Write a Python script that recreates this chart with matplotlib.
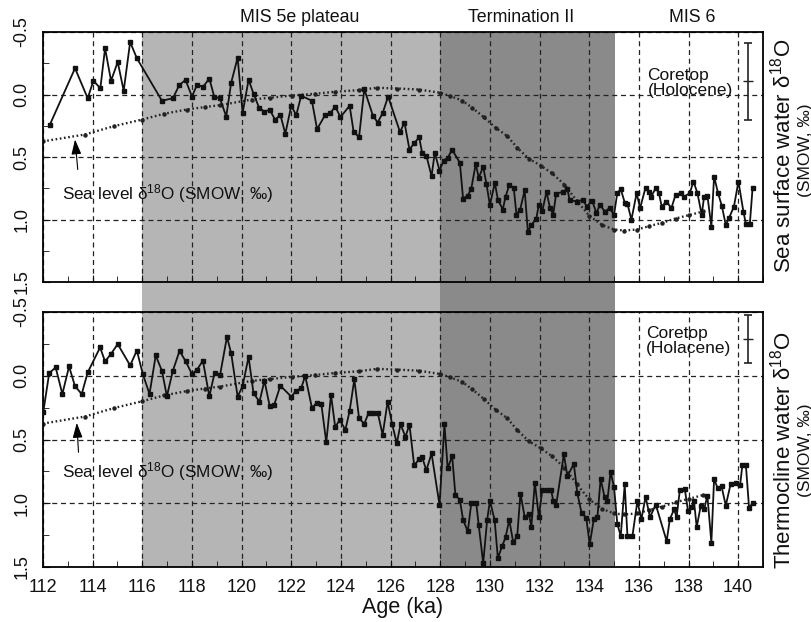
import matplotlib
matplotlib.use('Agg')
import matplotlib.pyplot as plt
from matplotlib.patches import Rectangle
from matplotlib.transforms import blended_transform_factory
from matplotlib.ticker import MultipleLocator, FormatStrFormatter

plt.rcParams['font.family'] = ['Liberation Sans', 'DejaVu Sans']
plt.rcParams['mathtext.default'] = 'regular'

# sea surface water d18O (top panel)
top_age = [112.28, 113.29, 113.80, 114.03, 114.31, 114.50, 114.74, 115.01, 115.25, 115.51,
           115.78, 116.79, 117.23, 117.49, 117.74, 118.00, 118.20, 118.45, 118.70, 118.90,
           119.12, 119.38, 119.58, 119.84, 120.04, 120.28, 120.48, 120.71, 120.92, 121.13,
           121.35, 121.56, 121.76, 122.00, 122.20, 122.40, 122.83, 123.04, 123.37, 123.57,
           123.77, 123.98, 124.35, 124.51, 124.73, 124.94, 125.29, 125.48, 125.68, 125.90,
           126.38, 126.56, 126.76, 126.95, 127.15, 127.27, 127.44, 127.65, 127.78, 127.97,
           128.14, 128.30, 128.48, 128.79, 128.92, 129.11, 129.25, 129.43, 129.55, 129.73,
           129.86, 130.00, 130.20, 130.32, 130.52, 130.63, 130.78, 130.96, 131.07, 131.22,
           131.40, 131.53, 131.67, 131.87, 131.97, 132.11, 132.28, 132.42, 132.55, 132.67,
           132.96, 133.12, 133.21, 133.52, 133.75, 133.90, 134.12, 134.29, 134.43, 134.63,
           134.82, 135.00, 135.13, 135.27, 135.43, 135.54, 135.70, 135.91, 136.05, 136.27,
           136.41, 136.50, 136.68, 136.81, 136.92, 137.11, 137.31, 137.48, 137.69, 137.83,
           138.05, 138.20, 138.36, 138.53, 138.63, 138.76, 138.92, 139.03, 139.19, 139.34,
           139.50, 139.63, 139.83, 140.01, 140.21, 140.31, 140.47, 140.58]
top_d18o = [0.24, -0.21, 0.03, -0.11, -0.05, -0.37, -0.11, -0.26, -0.03, -0.42,
            -0.29, 0.05, 0.03, -0.075, -0.117, 0.016, -0.075, -0.062, -0.128, 0.02,
            0.028, 0.176, -0.095, -0.295, 0.149, -0.118, -0.006, 0.109, 0.136, 0.122,
            0.202, 0.162, 0.314, 0.09, 0.165, 0.01, 0.05, 0.277, 0.162, 0.149,
            0.096, 0.181, 0.09, 0.296, 0.341, -0.043, 0.17, 0.224, 0.149, 0.016,
            0.30, 0.225, 0.44, 0.39, 0.342, 0.466, 0.488, 0.653, 0.466, 0.608,
            0.528, 0.506, 0.442, 0.546, 0.832, 0.808, 0.754, 0.554, 0.666, 0.578,
            0.714, 0.885, 0.706, 0.84, 0.92, 0.818, 0.725, 0.746, 0.96, 0.92,
            0.765, 1.098, 1.045, 0.992, 0.88, 0.933, 0.778, 0.906, 0.96, 0.792,
            0.778, 0.752, 0.845, 0.856, 0.842, 0.896, 0.85, 0.949, 0.882, 0.936,
            0.909, 0.962, 0.789, 0.757, 0.864, 0.874, 1.002, 0.789, 0.909, 0.744,
            0.776, 0.816, 0.749, 0.789, 0.896, 0.856, 0.909, 0.802, 0.789, 0.816,
            0.789, 0.696, 0.789, 0.962, 0.816, 0.81, 1.056, 0.656, 0.789, 0.89,
            1.042, 0.989, 0.896, 0.696, 0.936, 1.034, 1.034, 0.749]

# thermocline water d18O (bottom panel)
bot_age = [112.01, 112.25, 112.51, 112.78, 113.05, 113.29, 113.56, 113.80, 114.30, 114.50,
           114.74, 115.01, 115.51, 115.78, 116.02, 116.29, 116.54, 116.79, 116.99, 117.23,
           117.50, 117.75, 118.00, 118.20, 118.44, 118.70, 118.91, 119.13, 119.41, 119.58,
           119.84, 120.04, 120.28, 120.48, 120.72, 120.92, 121.13, 121.31, 121.56, 122.00,
           122.20, 122.40, 122.56, 122.83, 123.04, 123.21, 123.41, 123.60, 123.77, 123.95,
           124.18, 124.35, 124.54, 124.73, 124.94, 125.12, 125.29, 125.48, 125.68, 125.88,
           126.06, 126.25, 126.40, 126.60, 126.76, 126.95, 127.15, 127.27, 127.44, 127.65,
           127.97, 128.17, 128.30, 128.48, 128.61, 128.79, 128.92, 129.11, 129.25, 129.45,
           129.55, 129.73, 129.89, 130.00, 130.19, 130.32, 130.50, 130.63, 130.78, 130.94,
           131.10, 131.23, 131.40, 131.57, 131.67, 131.81, 131.97, 132.11, 132.31, 132.47,
           132.55, 132.67, 132.98, 133.12, 133.38, 133.52, 133.69, 133.88, 134.02, 134.19,
           134.33, 134.46, 134.62, 134.73, 134.86, 135.00, 135.13, 135.27, 135.43, 135.54,
           135.74, 135.94, 136.10, 136.27, 136.45, 136.68, 137.12, 137.25, 137.42, 137.52,
           137.65, 137.85, 137.98, 138.12, 138.22, 138.33, 138.49, 138.63, 138.76, 138.92,
           139.03, 139.17, 139.33, 139.50, 139.70, 139.90, 140.08, 140.17, 140.31, 140.44,
           140.58]
bot_d18o = [0.286, -0.021, -0.065, 0.143, -0.073, 0.083, 0.143, -0.026, -0.222, -0.112,
            -0.172, -0.248, -0.081, -0.198, -0.013, 0.143, -0.159, -0.039, 0.161, -0.039,
            -0.195, -0.112, -0.013, -0.047, -0.118, 0.162, -0.022, -0.004, -0.305, -0.175,
            0.164, 0.08, -0.148, 0.138, 0.203, 0.039, 0.237, 0.229, 0.078, 0.164,
            0.117, 0.098, 0.0, 0.25, 0.211, 0.221, 0.523, 0.151, 0.403, 0.346,
            0.424, 0.276, 0.028, 0.333, 0.377, 0.289, 0.289, 0.289, 0.463, 0.203,
            0.377, 0.53, 0.381, 0.478, 0.383, 0.702, 0.655, 0.638, 0.742, 0.609,
            1.013, 0.382, 0.726, 0.63, 0.934, 0.973, 1.13, 1.221, 1.0, 1.0,
            1.172, 1.469, 1.13, 0.981, 1.13, 1.43, 1.333, 1.268, 1.13, 1.307,
            1.26, 0.924, 1.106, 1.086, 1.184, 0.838, 1.104, 0.898, 0.898, 0.898,
            0.981, 1.013, 0.615, 0.788, 0.692, 0.919, 1.075, 1.114, 1.323, 1.12,
            1.107, 0.81, 0.953, 0.984, 0.755, 0.872, 1.159, 1.258, 0.852, 1.258,
            1.258, 0.984, 1.127, 0.95, 1.109, 1.01, 1.297, 1.122, 1.049, 1.109,
            0.898, 0.888, 1.062, 1.029, 0.984, 1.187, 1.023, 1.049, 0.94, 1.309,
            0.81, 0.88, 0.867, 1.018, 0.846, 0.841, 0.854, 0.70, 0.70, 1.039,
            0.997]

# sea level d18O (dotted, both panels)
sl_age = [112.0, 113.69, 114.86, 116.0, 116.88, 117.79, 118.53, 119.14, 120.41, 121.15,
          122.03, 122.97, 123.77, 124.71, 125.45, 126.26, 127.13, 128.0, 128.41, 128.88,
          129.29, 129.75, 130.23, 130.7, 131.1, 131.57, 132.04, 132.5, 133.0, 133.5,
          134.0, 134.53, 135.0, 135.4, 135.94, 136.41, 136.95, 137.48, 138.02, 138.6]
sl_d18o = [0.375, 0.32, 0.253, 0.2, 0.154, 0.12, 0.10, 0.085, 0.04, 0.026,
           0.008, -0.006, -0.022, -0.035, -0.054, -0.048, -0.04, -0.014, 0.013, 0.048,
           0.106, 0.181, 0.266, 0.333, 0.426, 0.514, 0.568, 0.63, 0.72, 0.85,
           0.97, 1.045, 1.08, 1.088, 1.08, 1.053, 1.026, 0.992, 0.965, 0.935]

# coretop (Holocene) value with error
core_age = 140.4
core_top = [-0.105, 0.31]
core_bot = [-0.29, 0.19]

W, H = 812, 622
fig = plt.figure(figsize=(W / 100, H / 100), dpi=100)
ax1 = fig.add_axes([43 / W, 1 - 282 / H, 720 / W, 250 / H])
ax2 = fig.add_axes([43 / W, 1 - 567 / H, 720 / W, 255 / H])

# grey bands run through both panels and the gap between them
y0 = ax2.get_position().y0
y1 = ax1.get_position().y1
tr = blended_transform_factory(ax2.transData, fig.transFigure)
fig.add_artist(Rectangle((116, y0), 12, y1 - y0, transform=tr, color='#b5b5b5', lw=0, zorder=-1))
fig.add_artist(Rectangle((128, y0), 7.05, y1 - y0, transform=tr, color='#8a8a8a', lw=0, zorder=-1))

for ax in (ax1, ax2):
    ax.set_facecolor('none')
    ax.set_xlim(112, 141)
    ax.set_ylim(1.5, -0.5)
    ax.xaxis.set_major_locator(MultipleLocator(2))
    ax.xaxis.set_minor_locator(MultipleLocator(1))
    ax.yaxis.set_major_locator(MultipleLocator(0.5))
    ax.yaxis.set_minor_locator(MultipleLocator(0.25))
    ax.yaxis.set_major_formatter(FormatStrFormatter('%.1f'))
    ax.tick_params(which='both', direction='in', labelsize=13, pad=9, colors='#111111')
    ax.tick_params(which='major', length=5)
    ax.tick_params(which='minor', length=4)
    ax.tick_params(axis='y', labelrotation=90)
    for lab in ax.get_yticklabels():
        lab.set_va('center')
    ax.grid(True, which='major', color='#222222', linestyle=(0, (4, 3)), linewidth=0.9)
    for s in ax.spines.values():
        s.set_linewidth(1.3)
    ax.plot(sl_age, sl_d18o, color='#222222', lw=1.7, linestyle=(0, (0.7, 1.1)),
            marker='o', ms=2.2, zorder=2)

ax1.tick_params(labelbottom=False)

ax1.plot(top_age, top_d18o, '-s', color='#111111', lw=1.3, ms=3.4, zorder=3)
ax2.plot(bot_age, bot_d18o, '-s', color='#111111', lw=1.3, ms=3.4, zorder=3)

ax1.errorbar([core_age], [core_top[0]], yerr=[core_top[1]], fmt='_', color='#222222',
             ms=7, capsize=3, elinewidth=1.2, capthick=1.2, zorder=4)
ax2.errorbar([core_age], [core_bot[0]], yerr=[core_bot[1]], fmt='_', color='#222222',
             ms=7, capsize=3, elinewidth=1.2, capthick=1.2, zorder=4)
ax1.text(136.35, -0.09, 'Coretop\n(Holocene)', fontsize=12.5, ha='left', va='center',
         color='#111111', linespacing=1.0)
ax2.text(136.3, -0.27, 'Coretop\n(Holacene)', fontsize=12.5, ha='left', va='center',
         color='#111111', linespacing=1.0)

sl_txt = 'Sea level δ$^{18}$O (SMOW, ‰)'
arrow = dict(arrowstyle='-|>,head_length=0.9,head_width=0.3', color='black', lw=0.8,
             mutation_scale=10, shrinkA=0, shrinkB=0)
ax1.text(112.75, 0.79, sl_txt, fontsize=12.3, va='center', color='#111111')
ax1.annotate('', xy=(113.29, 0.36), xytext=(113.4, 0.6), arrowprops=arrow)
ax2.text(112.75, 0.75, sl_txt, fontsize=12.3, va='center', color='#111111')
ax2.annotate('', xy=(113.36, 0.37), xytext=(113.43, 0.6), arrowprops=arrow)

ax2.set_xlabel('Age (ka)', fontsize=15.5, labelpad=0, color='#111111')

fig.text(300 / W, 1 - 18 / H, 'MIS 5e plateau', fontsize=12.8, ha='center', va='center', color='#111111')
fig.text(521 / W, 1 - 18 / H, 'Termination II', fontsize=12.8, ha='center', va='center', color='#111111')
fig.text(692 / W, 1 - 18 / H, 'MIS 6', fontsize=12.8, ha='center', va='center', color='#111111')

fig.text(783 / W, 1 - 156 / H, 'Sea surface water δ$^{18}$O', fontsize=16, rotation=90,
         ha='center', va='center', color='#111111')
fig.text(806 / W, 1 - 150 / H, '(SMOW, ‰)', fontsize=12.5, rotation=90,
         ha='center', va='center', color='#111111')
fig.text(783 / W, 1 - 450 / H, 'Thermocline water δ$^{18}$O', fontsize=16, rotation=90,
         ha='center', va='center', color='#111111')
fig.text(806 / W, 1 - 450 / H, '(SMOW, ‰)', fontsize=12.5, rotation=90,
         ha='center', va='center', color='#111111')

fig.savefig('out.png', dpi=100)
